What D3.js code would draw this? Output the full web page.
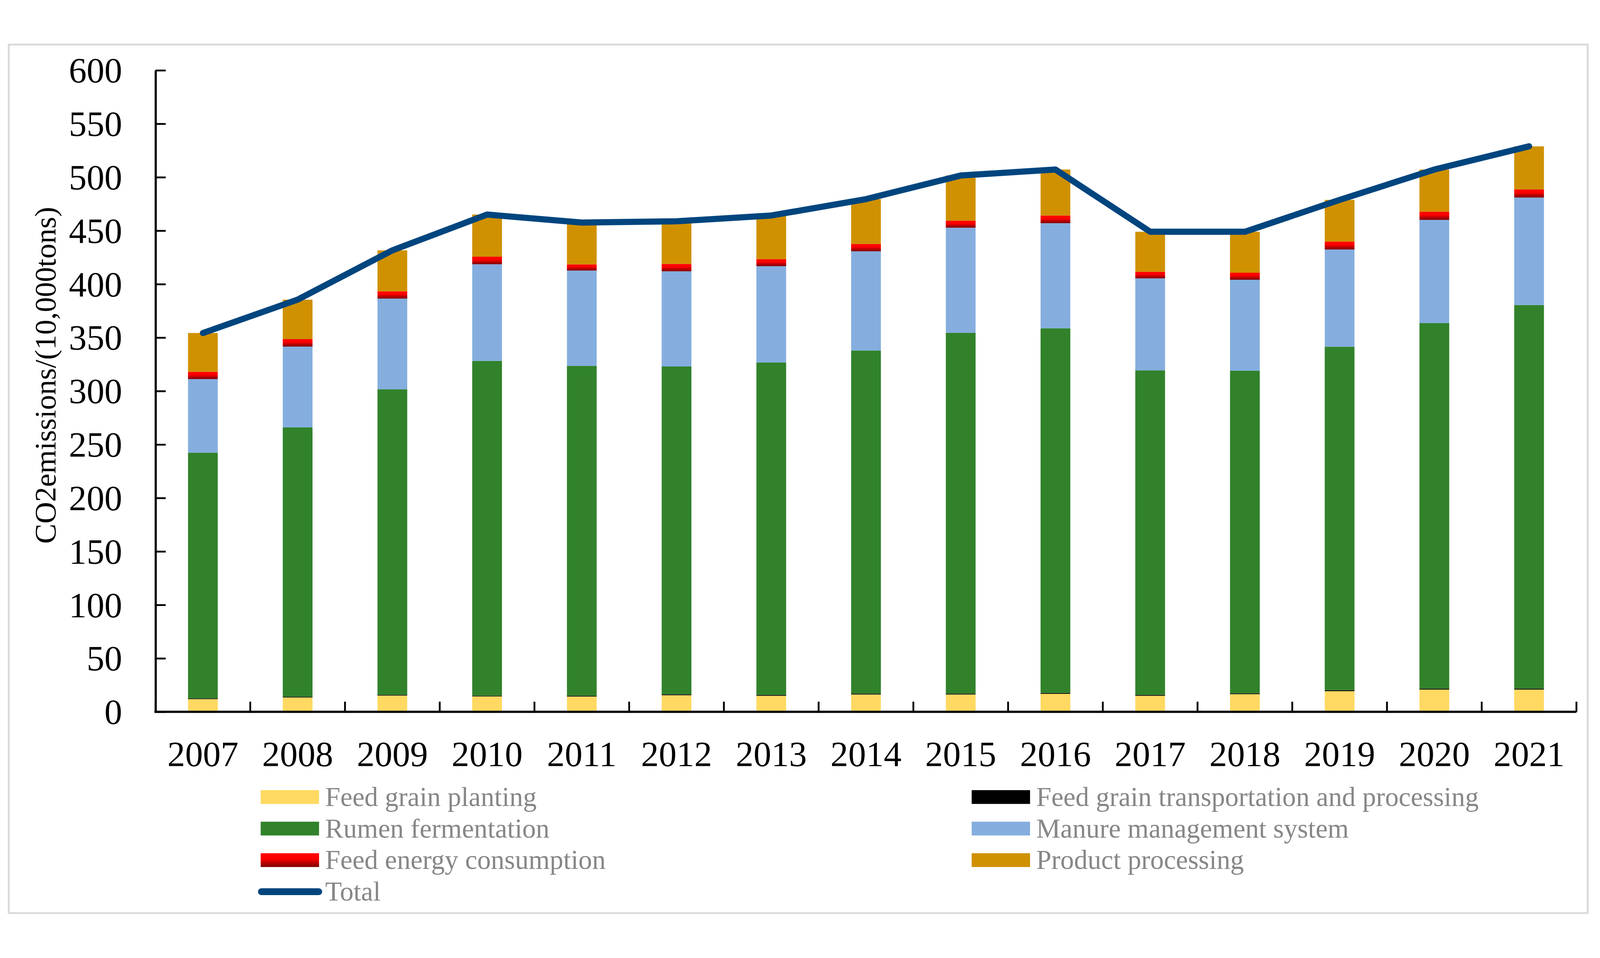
<!DOCTYPE html>
<html>
<head>
<meta charset="utf-8">
<script src="https://cdn.jsdelivr.net/npm/d3@7/dist/d3.min.js"></script>
<style>
  html, body { margin: 0; padding: 0; background: #ffffff; overflow: hidden; }
  svg { display: block; width: 100vw; height: 100vh; }
</style>
</head>
<body>
<svg id="chart" viewBox="0 0 4413 2452" preserveAspectRatio="xMidYMid meet"></svg>
<script>
// ---------------- DATA ----------------
const years = ["2007","2008","2009","2010","2011","2012","2013","2014","2015","2016","2017","2018","2019","2020","2021"];
const feedGrainPlanting = [11.9, 13.4, 15.2, 14.4, 14.3, 15.5, 15.0, 16.2, 16.2, 16.8, 15.0, 16.5, 19.3, 20.8, 20.8];
const feedGrainTransport = [0.7, 0.7, 0.7, 0.7, 0.7, 0.8, 0.8, 0.8, 0.8, 0.8, 0.8, 0.8, 0.9, 0.9, 0.9];
const rumenFermentation = [229.8, 251.9, 285.8, 313.1, 308.6, 306.7, 311.0, 320.9, 337.5, 341.1, 303.5, 301.7, 321.3, 341.9, 358.8];
const manureManagement = [68.8, 75.6, 84.8, 90.4, 89.1, 89.0, 90.0, 92.8, 98.3, 98.3, 86.1, 85.1, 90.9, 96.5, 100.5];
const feedEnergy = [6.8, 7.0, 6.8, 7.1, 5.8, 6.9, 6.6, 6.9, 6.6, 7.2, 6.2, 6.6, 7.4, 7.7, 7.7];
const productProcessing = [36.3, 36.9, 38.3, 39.4, 39.1, 39.9, 40.8, 41.9, 42.2, 43.0, 37.4, 38.3, 39.0, 39.4, 40.2];
const totalEmissions = [354.3, 385.5, 431.6, 465.1, 457.6, 458.8, 464.2, 479.5, 501.6, 507.2, 449.0, 449.0, 478.8, 507.2, 528.9];
const yTicks = [0, 50, 100, 150, 200, 250, 300, 350, 400, 450, 500, 550, 600];
const seriesNames = ["Feed grain planting", "Feed grain transportation and processing", "Rumen fermentation",
                     "Manure management system", "Feed energy consumption", "Product processing"];
const lineName = "Total";
const yLabel = "CO2emissions/(10,000tons)";

// ---------------- STYLE ----------------
const keys = ["planting","transport","rumen","manure","energy","product"];
const colors = {
  planting: "#FFD961",
  transport: "#000000",
  rumen: "#31822B",
  manure: "#85AEDF",
  energy: "url(#energyGrad)",
  product: "#CF9100"
};
const lineColor = "#00457E";
const serif = "'Liberation Serif','Times New Roman',Times,serif";

// ---------------- LAYOUT ----------------
const plot = { left: 429, right: 4348, top: 99, bottom: 1868 };

const svg = d3.select("#chart");

// outer border
svg.append("rect")
  .attr("x", 24).attr("y", 28).attr("width", 4355).attr("height", 2395)
  .attr("fill", "#ffffff").attr("stroke", "#d9d9d9").attr("stroke-width", 5);

// gradient for energy
const defs = svg.append("defs");
const grad = defs.append("linearGradient").attr("id", "energyGrad")
  .attr("x1", 0).attr("y1", 0).attr("x2", 0).attr("y2", 1);
grad.append("stop").attr("offset", "0%").attr("stop-color", "#ff0000");
grad.append("stop").attr("offset", "38%").attr("stop-color", "#ff0000");
grad.append("stop").attr("offset", "100%").attr("stop-color", "#7a0000");

// table for stack
const table = years.map((y, i) => ({
  year: y,
  planting: feedGrainPlanting[i],
  transport: feedGrainTransport[i],
  rumen: rumenFermentation[i],
  manure: manureManagement[i],
  energy: feedEnergy[i],
  product: productProcessing[i],
  total: totalEmissions[i]
}));

const x = d3.scaleBand().domain(years).range([plot.left, plot.right])
  .paddingInner(0.686).paddingOuter(0.343);
const y = d3.scaleLinear().domain([0, 600]).range([plot.bottom, plot.top]);

const stacked = d3.stack().keys(keys)(table);

// bars
const gBars = svg.append("g");
stacked.forEach(layer => {
  gBars.append("g").attr("fill", colors[layer.key])
    .selectAll("rect").data(layer).join("rect")
    .attr("x", d => x(d.data.year))
    .attr("width", x.bandwidth())
    .attr("y", d => y(d[1]))
    .attr("height", d => Math.max(0, y(d[0]) - y(d[1])));
});

// y axis
const yAxis = d3.axisLeft(y).tickValues(yTicks).tickSizeInner(-28).tickSizeOuter(0).tickPadding(92)
  .tickFormat(d3.format("d"));
const gy = svg.append("g").attr("transform", `translate(${plot.left},0)`).call(yAxis);
gy.select(".domain").attr("stroke", "#000").attr("stroke-width", 6);
gy.selectAll(".tick line").attr("stroke", "#000").attr("stroke-width", 5);
gy.selectAll(".tick text").attr("font-family", serif).attr("font-size", 98).attr("fill", "#000")
  .attr("dy", "0.34em");

// x axis
const xAxis = d3.axisBottom(x).tickSize(0).tickSizeOuter(0);
const gx = svg.append("g").attr("transform", `translate(0,${plot.bottom})`).call(xAxis);
gx.select(".domain").attr("stroke", "#000").attr("stroke-width", 6)
  .attr("d", `M${plot.left - 3},0H${plot.right}`);
gx.selectAll(".tick text").attr("font-family", serif).attr("font-size", 98).attr("fill", "#000")
  .attr("y", 150).attr("dy", 0);

// x boundary ticks (inside, pointing up)
const boundaries = years.map(yr => x(yr) - x.step() * x.paddingInner() / 2).concat([plot.right]);
svg.append("g").selectAll("line").data(boundaries).join("line")
  .attr("x1", d => d).attr("x2", d => d)
  .attr("y1", plot.bottom).attr("y2", plot.bottom - 28)
  .attr("stroke", "#000").attr("stroke-width", 5);

// y label
svg.append("text")
  .attr("transform", `translate(153,940) rotate(-90)`)
  .attr("text-anchor", "middle")
  .attr("font-family", serif).attr("font-size", 83).attr("fill", "#000")
  .text(yLabel);

// total line
const line = d3.line()
  .x((d, i) => x(years[i]) + x.bandwidth() / 2)
  .y(d => y(d));
svg.append("path").datum(totalEmissions)
  .attr("d", line)
  .attr("fill", "none").attr("stroke", lineColor).attr("stroke-width", 17)
  .attr("stroke-linecap", "round").attr("stroke-linejoin", "round");

// legend
const legendItems = [
  { name: seriesNames[0], key: "planting", col: 0, row: 0 },
  { name: seriesNames[1], key: "transport", col: 1, row: 0 },
  { name: seriesNames[2], key: "rumen", col: 0, row: 1 },
  { name: seriesNames[3], key: "manure", col: 1, row: 1 },
  { name: seriesNames[4], key: "energy", col: 0, row: 2 },
  { name: seriesNames[5], key: "product", col: 1, row: 2 },
  { name: lineName, key: "line", col: 0, row: 3 }
];
const colX = [719, 2680];
const rowY = [2103, 2190, 2277, 2364];
const gLeg = svg.append("g");
legendItems.forEach(it => {
  const gx0 = colX[it.col], cy = rowY[it.row];
  if (it.key === "line") {
    gLeg.append("line")
      .attr("x1", gx0 + 2).attr("x2", gx0 + 160).attr("y1", cy).attr("y2", cy)
      .attr("stroke", lineColor).attr("stroke-width", 19).attr("stroke-linecap", "round");
  } else {
    gLeg.append("rect")
      .attr("x", gx0).attr("y", cy - 19).attr("width", 161).attr("height", 38)
      .attr("fill", colors[it.key]);
  }
  gLeg.append("text")
    .attr("x", gx0 + 178).attr("y", cy).attr("dy", "0.33em")
    .attr("font-family", serif).attr("font-size", 75).attr("fill", "#878787")
    .text(it.name);
});
</script>
</body>
</html>
